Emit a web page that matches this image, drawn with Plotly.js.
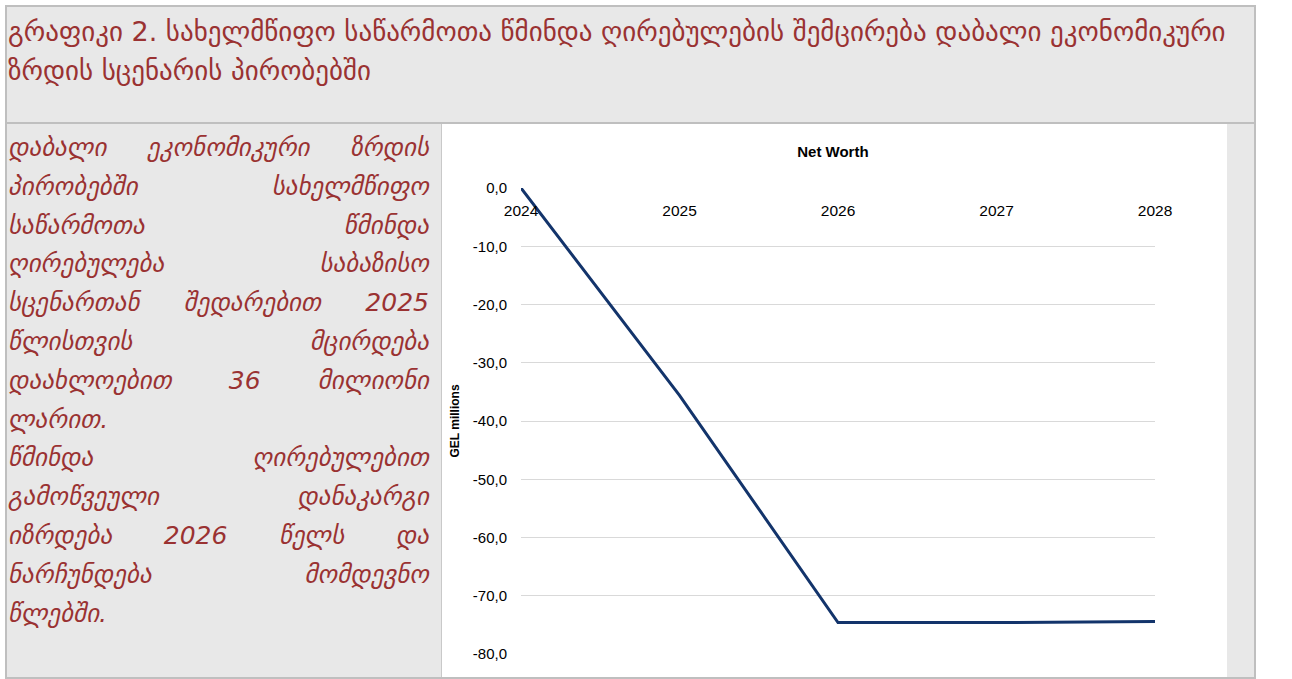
<!DOCTYPE html>
<html>
<head>
<meta charset="utf-8">
<script src="https://cdn.plot.ly/plotly-3.0.1.min.js"></script>
<style>
  html, body { margin:0; padding:0; background:#ffffff; }
  #frame { position:absolute; left:5px; top:5px; width:1251px; height:674px; border:2px solid #bfbfbf; box-sizing:border-box; background:#e8e8e8; overflow:hidden; }
  #header { position:absolute; left:0; top:0; width:1247px; height:117px; border-bottom:2px solid #bfbfbf; box-sizing:border-box; }
  #title { position:absolute; left:1px; top:5px; font-family:"DejaVu Sans", sans-serif; font-size:27px; line-height:39px; color:#9a3232; white-space:nowrap; }
  #left { position:absolute; left:0; top:117px; width:435px; height:553px; border-right:1.5px solid #c9c9c9; box-sizing:border-box; }
  #text { position:absolute; left:1px; top:5px; width:421px; font-family:"DejaVu Sans", sans-serif; font-style:italic; font-size:25px; line-height:38.8px; color:#9a3232; }
  .j { text-align:justify; text-align-last:justify; white-space:nowrap; }
  .l { text-align:left; white-space:nowrap; }
  #chart { position:absolute; left:435px; top:117px; width:785px; height:553px; background:#ffffff; }
</style>
</head>
<body>
<div id="frame">
  <div id="header"><div id="title"></div></div>
  <div id="left"><div id="text"></div></div>
  <div id="chart"></div>
</div>
<script>
// ---- text content ----
const headerLines = [
  "გრაფიკი 2. სახელმწიფო საწარმოთა წმინდა ღირებულების შემცირება დაბალი ეკონომიკური",
  "ზრდის სცენარის პირობებში"
];
const bodyLines = [
  "დაბალი ეკონომიკური ზრდის",
  "პირობებში სახელმწიფო",
  "საწარმოთა წმინდა",
  "ღირებულება საბაზისო",
  "სცენართან შედარებით 2025",
  "წლისთვის მცირდება",
  "დაახლოებით 36 მილიონი",
  "ლარით.",
  "წმინდა ღირებულებით",
  "გამოწვეული დანაკარგი",
  "იზრდება 2026 წელს და",
  "ნარჩუნდება მომდევნო",
  "წლებში."
];
const lastLines = [7, 12];

// ---- chart data ----
const years = [2024, 2025, 2026, 2027, 2028];
const yearLabels = ["2024", "2025", "2026", "2027", "2028"];
const netWorth = [0.0, -35.6, -74.6, -74.6, -74.4];
const yTicks = [0, -10, -20, -30, -40, -50, -60, -70, -80];
const yTickLabels = ["0,0", "-10,0", "-20,0", "-30,0", "-40,0", "-50,0", "-60,0", "-70,0", "-80,0"];
const chartTitle = "Net Worth";
const yTitle = "GEL millions";

document.getElementById('title').innerHTML = headerLines.join('<br>');
const t = document.getElementById('text');
bodyLines.forEach((s, i) => {
  const d = document.createElement('div');
  d.className = lastLines.includes(i) ? 'l' : 'j';
  d.textContent = s;
  t.appendChild(d);
});

const trace = {
  x: years, y: netWorth, type: 'scatter', mode: 'lines',
  line: { color: '#13346b', width: 3 },
  hoverinfo: 'x+y'
};
const font = "Liberation Sans, Arial, sans-serif";
const layout = {
  width: 785, height: 553,
  paper_bgcolor: '#ffffff', plot_bgcolor: '#ffffff',
  margin: { l: 79, r: 72, t: 64, b: 23 },
  separators: ',.',
  showlegend: false,
  title: { text: '<b>' + chartTitle + '</b>', font: { family: "Liberation Sans Narrow, Liberation Sans, Arial", size: 15, color: '#000' },
           x: 0.498, xref: 'container', y: 0.949, yref: 'container', xanchor: 'center', yanchor: 'middle' },
  xaxis: {
    range: [2024, 2028], tickvals: years, ticktext: yearLabels,
    anchor: 'free', position: 1, side: 'bottom',
    showgrid: false, zeroline: false, showline: false, ticks: '',
    ticklabelstandoff: 11,
    tickfont: { family: font, size: 15.5, color: '#000' }
  },
  yaxis: {
    range: [-80, 0], tickvals: yTicks, ticktext: yTickLabels,
    showgrid: true, gridcolor: '#d9d9d9', gridwidth: 1,
    zeroline: false, showline: false, ticks: '',
    ticklabelstandoff: 13,
    tickfont: { family: font, size: 15, color: '#000' },
    title: { text: '<b>' + yTitle + '</b>', font: { family: "Liberation Sans Narrow, Liberation Sans, Arial", size: 12, color: '#000' }, standoff: 10 }
  }
};
Plotly.newPlot('chart', [trace], layout, { displayModeBar: false, responsive: false });
</script>
</body>
</html>
